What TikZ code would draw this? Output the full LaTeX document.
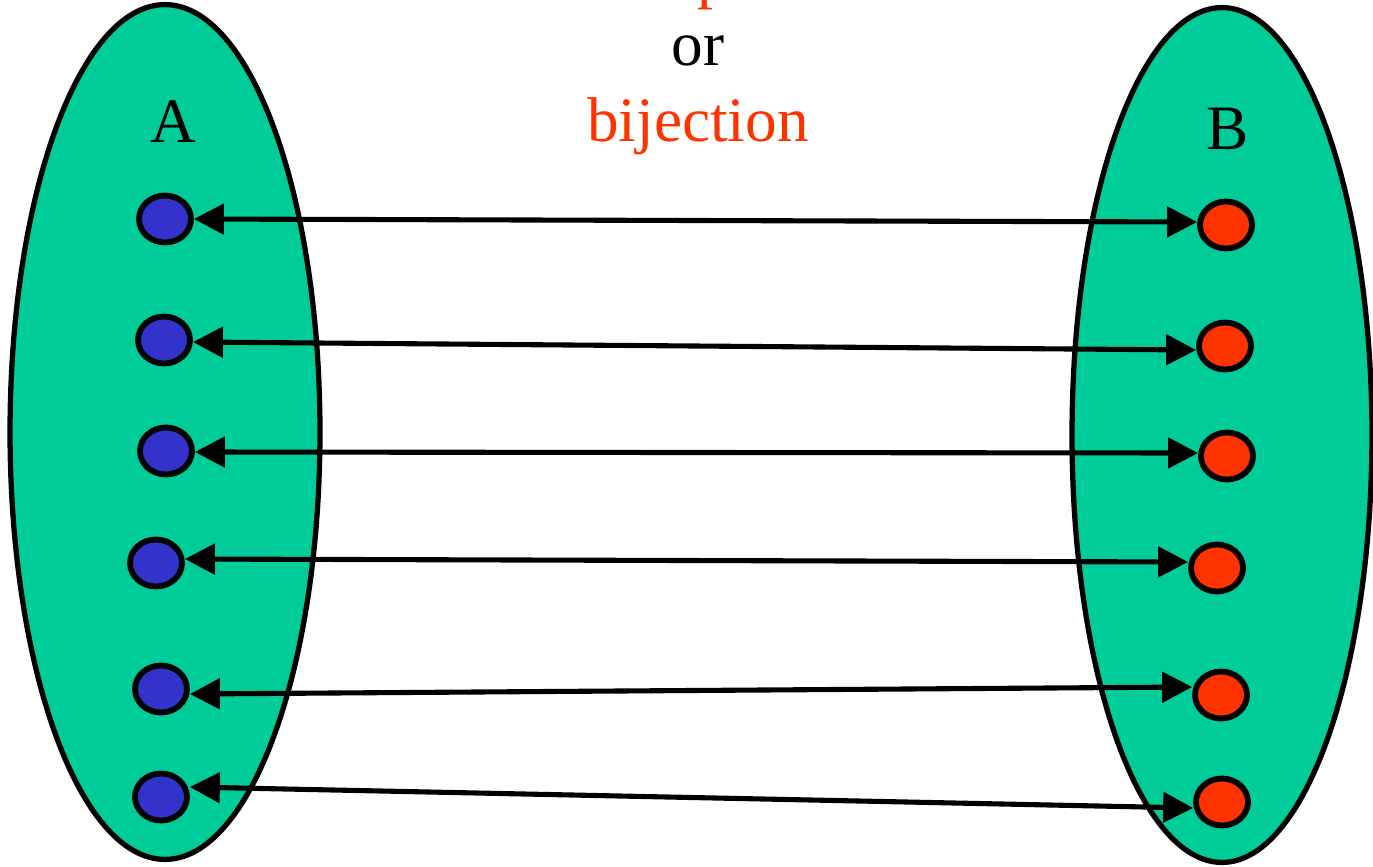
\documentclass[tikz,border=0pt]{standalone}
\usepackage{fontspec}
\setmainfont{Liberation Serif}
\usetikzlibrary{arrows.meta,shapes.geometric,calc}
\definecolor{setgreen}{HTML}{00CC99}
\definecolor{dotblue}{HTML}{3333CC}
\definecolor{dotred}{HTML}{FF3300}
\begin{document}
\begin{tikzpicture}[
        x=0.02cm, y=-0.02cm,
        setbox/.style={ellipse, draw, line width=3pt, fill=setgreen, inner sep=0pt},
        elem/.style={ellipse, draw, line width=3.3pt, inner sep=0pt, minimum width=1.04cm, minimum height=0.94cm},
        pair/.style={{Triangle[length=0.6cm,width=0.6cm]}-{Triangle[length=0.6cm,width=0.6cm]}, line width=2.9pt},
        settitle/.style={font=\fontsize{36}{40}\selectfont}
    ]
        \useasboundingbox (0,0) rectangle (1373,866);

        % the two sets
        \node[setbox, minimum width=6.2cm, minimum height=17.1cm] (seta) at (165,432) {};
        \node[setbox, minimum width=6.0cm, minimum height=17.1cm] (setb) at (1222,435) {};
        \node[settitle] (namea) at (173,122) {A};
        \node[settitle] (nameb) at (1228,129) {B};

        % title, cut at the top
        \begin{scope}
            \clip (0,0) rectangle (1373,866);
            \node[settitle, text=dotred, anchor=base] (word) at (741,-4) {correspondence};
        \end{scope}
        \node[settitle] (or) at (698,51) {or};
        \node[settitle, text=dotred] (bij) at (698,126) {bijection};

        % elements of A
        \node[elem, fill=dotblue] (a1) at (165,219) {};
        \node[elem, fill=dotblue] (a2) at (164,340) {};
        \node[elem, fill=dotblue] (a3) at (166,451) {};
        \node[elem, fill=dotblue] (a4) at (156,563) {};
        \node[elem, fill=dotblue] (a5) at (161,689) {};
        \node[elem, fill=dotblue] (a6) at (161,797) {};

        % elements of B
        \node[elem, fill=dotred] (b1) at (1226,225) {};
        \node[elem, fill=dotred] (b2) at (1225,346) {};
        \node[elem, fill=dotred] (b3) at (1227,456) {};
        \node[elem, fill=dotred] (b4) at (1217,568) {};
        \node[elem, fill=dotred] (b5) at (1221,695) {};
        \node[elem, fill=dotred] (b6) at (1222,802) {};

        % arrows, end heights relative to the dots
        \foreach \i/\dl/\dr in {1/0/-3, 2/2/4, 3/1/-3, 4/-4/-6, 5/5/-8, 6/-10/6}
            \draw[pair] ($(a\i.east)+(0,\dl)$) -- ($(b\i.west)+(0,\dr)$);
    \end{tikzpicture}
\end{document}
